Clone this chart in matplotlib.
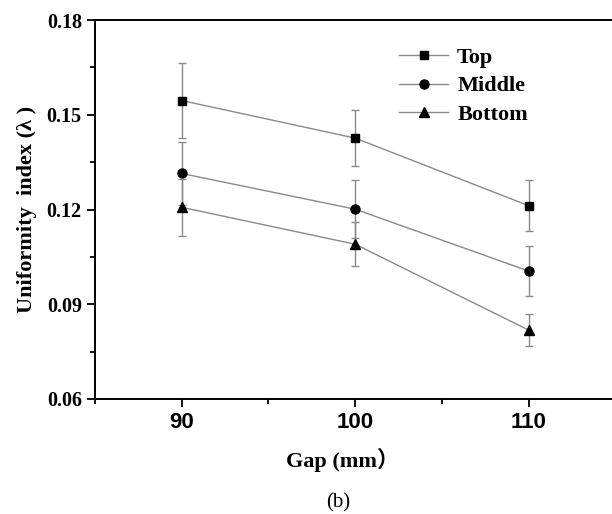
import matplotlib
matplotlib.use("Agg")
from matplotlib import pyplot as plt
from matplotlib.ticker import MultipleLocator

gap = [90, 100, 110]
top = [0.1545, 0.1426, 0.1212]
top_err = [0.0120, 0.0089, 0.0080]
middle = [0.1314, 0.1201, 0.1005]
middle_err = [0.0099, 0.0092, 0.0080]
bottom = [0.1207, 0.1090, 0.0818]
bottom_err = [0.0090, 0.0070, 0.0050]

serif = "Liberation Serif"
sans = "Liberation Sans"

fig = plt.figure(figsize=(6.12, 5.14), dpi=100)
ax = fig.add_axes([95 / 612, 1 - 399 / 514, 517 / 612, 379 / 514])

series = [
    (top, top_err, "s", 5.5, "Top"),
    (middle, middle_err, "o", 6.5, "Middle"),
    (bottom, bottom_err, "^", 6.5, "Bottom"),
]
for vals, errs, mk, ms, name in series:
    # error bars first, then the line with markers (legend uses only the line)
    ax.errorbar(gap, vals, yerr=errs, fmt="none", ecolor="#8a8a8a",
                elinewidth=1.0, capsize=3, capthick=1.0)
    ax.plot(gap, vals, color="#8a8a8a", lw=1.0, marker=mk, ms=ms,
            mfc="black", mec="black", label=name)

ax.set_xlim(85, 114.8)
ax.set_ylim(0.06, 0.18)
ax.set_xticks(gap)
ax.set_yticks([0.06, 0.09, 0.12, 0.15, 0.18])
ax.xaxis.set_minor_locator(MultipleLocator(5))
ax.yaxis.set_minor_locator(MultipleLocator(0.015))
ax.tick_params(which="major", direction="out", length=6, width=1.3)
ax.tick_params(which="minor", direction="out", length=3.5, width=1.3)

for lab in ax.get_xticklabels():
    lab.set_fontfamily(sans)
    lab.set_fontweight("bold")
    lab.set_fontsize(16)
for lab in ax.get_yticklabels():
    lab.set_fontfamily(serif)
    lab.set_fontweight("bold")
    lab.set_fontsize(14.5)

for side in ["left", "bottom", "top"]:
    ax.spines[side].set_linewidth(1.4)
ax.spines["right"].set_visible(False)

ax.set_ylabel("Uniformity  index (λ )", fontfamily=serif, fontweight="bold", fontsize=16)
ax.yaxis.set_label_coords(-0.112, 0.5)
ax.set_xlabel("Gap (mm）", fontfamily=[serif, "Noto Sans CJK SC"], fontweight="bold", fontsize=16)
ax.xaxis.set_label_coords(0.478, -0.128)

leg = ax.legend(loc="upper left", bbox_to_anchor=(0.55, 0.98), frameon=False,
                prop={"family": serif, "weight": "bold", "size": 16},
                handlelength=2.2, handletextpad=0.4, labelspacing=0.35)

fig.text(338 / 612, 1 - 503 / 514, "(b)", fontfamily=serif, fontsize=15,
         ha="center", va="center")

fig.savefig("out.png", dpi=100)
